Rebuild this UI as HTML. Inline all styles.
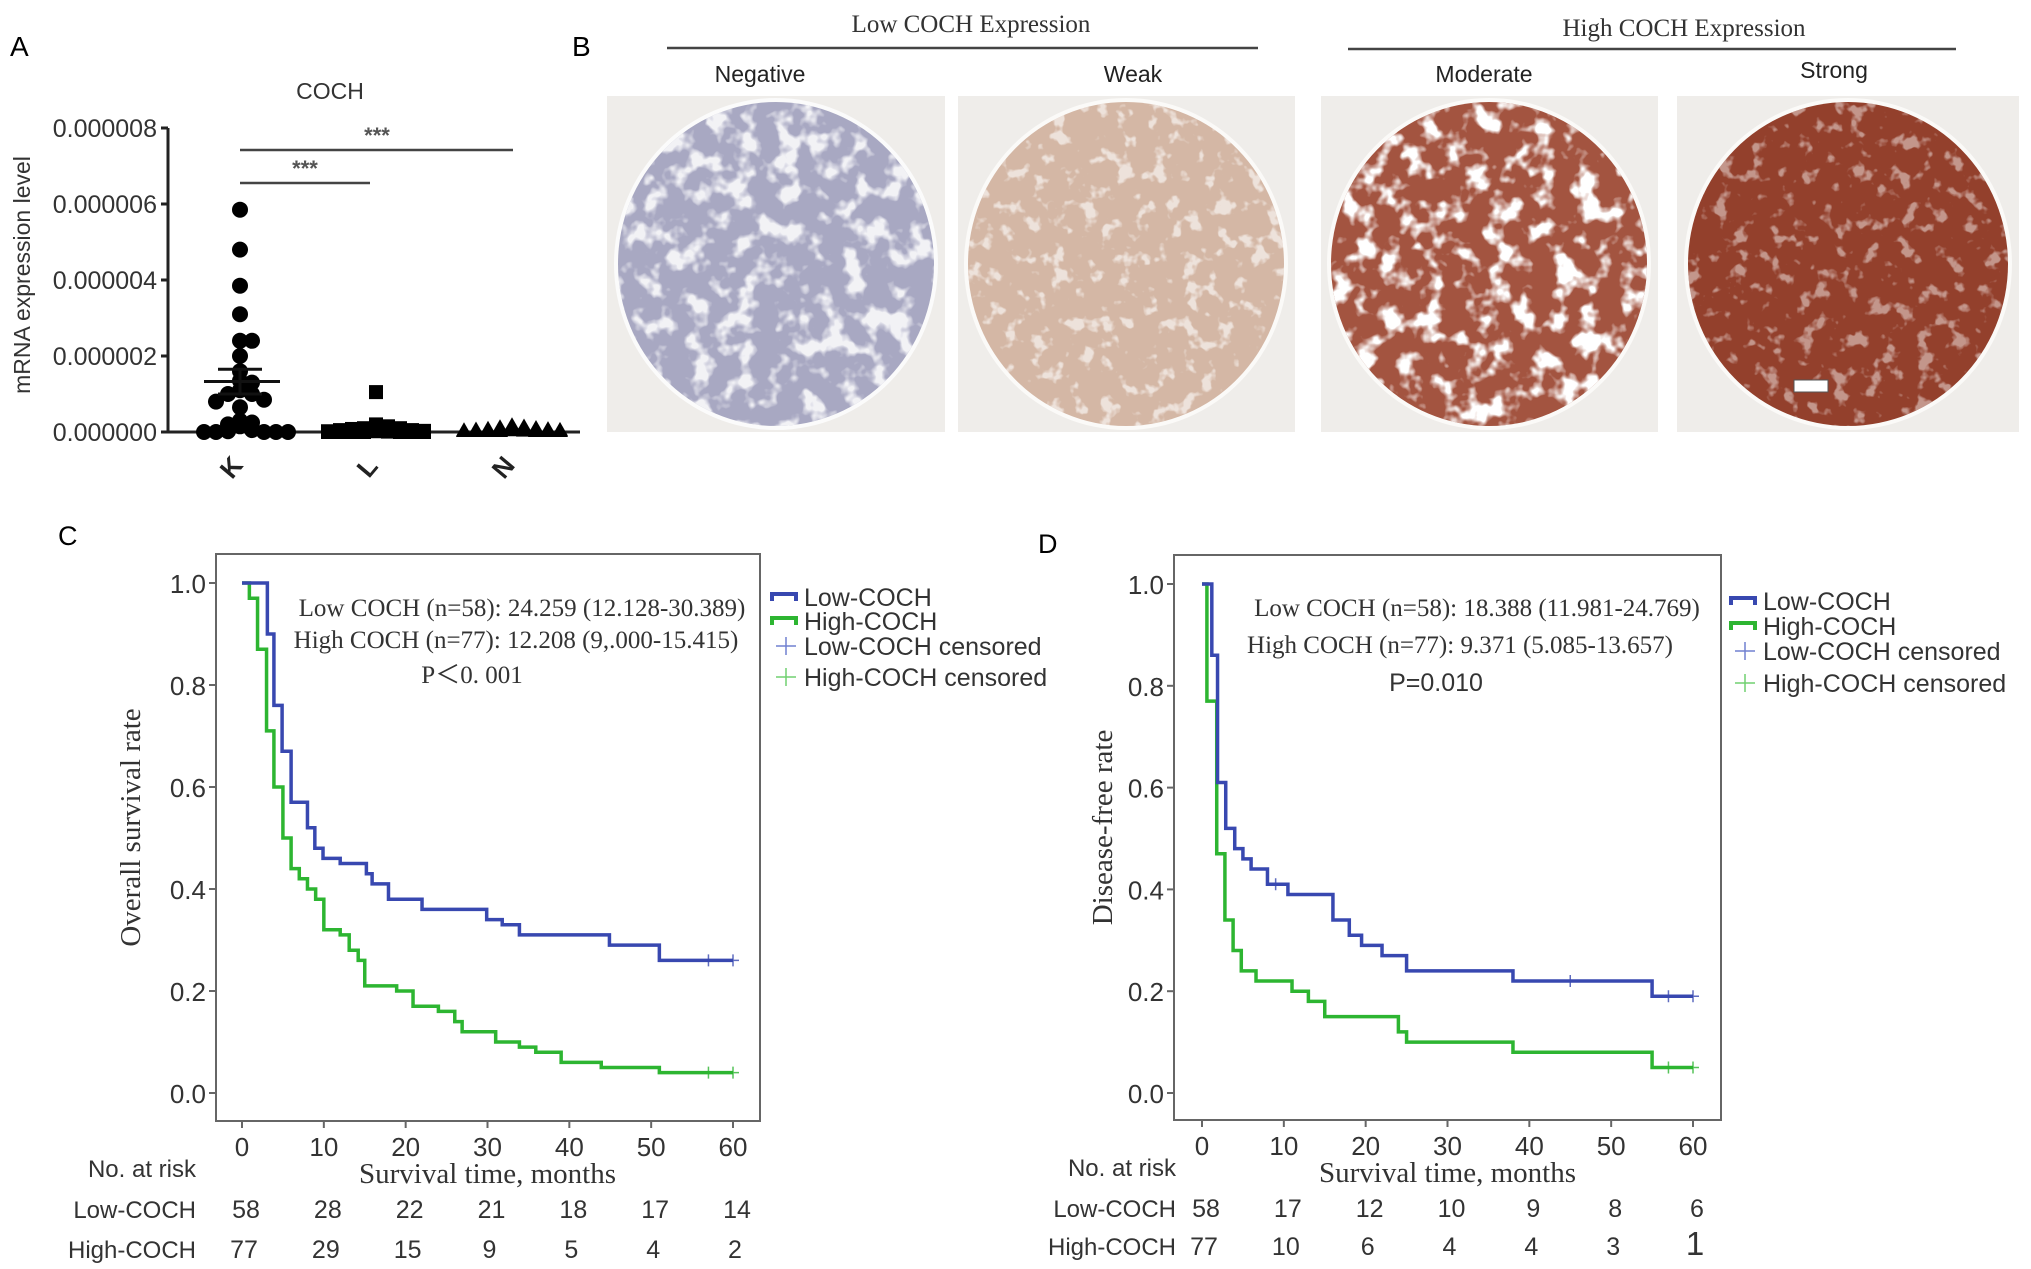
<!DOCTYPE html>
<html><head><meta charset="utf-8"><style>
html,body{margin:0;padding:0;background:#fff;}
svg{display:block;}
.sans{font-family:"Liberation Sans",sans-serif;}
.serif{font-family:"Liberation Serif",serif;}
</style></head><body>
<svg id="fig" width="2031" height="1269" viewBox="0 0 2031 1269" xmlns="http://www.w3.org/2000/svg">
<defs>
<filter id="tex" x="0" y="0" width="100%" height="100%">
<feTurbulence type="fractalNoise" baseFrequency="0.045" numOctaves="3" seed="4" result="n"/>
<feColorMatrix in="n" type="matrix" values="0 0 0 0 1  0 0 0 0 1  0 0 0 0 1  0 0 0 -6 3.0" result="m"/>
<feComposite in="m" in2="SourceGraphic" operator="in"/>
</filter>
<filter id="tex2" x="0" y="0" width="100%" height="100%">
<feTurbulence type="fractalNoise" baseFrequency="0.06" numOctaves="3" seed="9" result="n"/>
<feColorMatrix in="n" type="matrix" values="0 0 0 0 1  0 0 0 0 1  0 0 0 0 1  0 0 0 -8 3.4" result="m"/>
<feComposite in="m" in2="SourceGraphic" operator="in"/>
</filter>
</defs>

<!-- Panel A -->
<text x="10" y="56" class="sans" font-size="28">A</text>
<text x="330" y="99" class="sans" font-size="23" text-anchor="middle" fill="#333">COCH</text>
<text transform="translate(30,275) rotate(-90)" class="sans" font-size="23" text-anchor="middle" fill="#333">mRNA expression level</text>
<g id="panelA"></g>

<!-- Panel B -->
<text x="572" y="56" class="sans" font-size="28">B</text>
<text x="971" y="32" class="serif" font-size="25" text-anchor="middle" fill="#333">Low COCH Expression</text>
<line x1="667" y1="48" x2="1258" y2="48" stroke="#444" stroke-width="2.5"/>
<text x="1684" y="36" class="serif" font-size="25" text-anchor="middle" fill="#333">High COCH Expression</text>
<line x1="1348" y1="49" x2="1956" y2="49" stroke="#444" stroke-width="2.5"/>
<text x="760" y="82" class="sans" font-size="23" text-anchor="middle" fill="#222">Negative</text>
<text x="1133" y="82" class="sans" font-size="23" text-anchor="middle" fill="#222">Weak</text>
<text x="1484" y="82" class="sans" font-size="23" text-anchor="middle" fill="#222">Moderate</text>
<text x="1834" y="78" class="sans" font-size="23" text-anchor="middle" fill="#222">Strong</text>

<g>
<rect x="607" y="96" width="338" height="336" fill="#efedea"/>
<ellipse cx="776" cy="264" rx="162" ry="166" fill="#fbfbfb"/>
<ellipse cx="776" cy="264" rx="158" ry="162" fill="#a8a8c2"/>
<ellipse cx="776" cy="264" rx="158" ry="162" fill="#fff" filter="url(#tex)" opacity="0.85"/>
</g>
<g>
<rect x="958" y="96" width="337" height="336" fill="#efedea"/>
<ellipse cx="1126" cy="264" rx="162" ry="166" fill="#fbfaf8"/>
<ellipse cx="1126" cy="264" rx="158" ry="162" fill="#d4b7a5"/>
<ellipse cx="1126" cy="264" rx="158" ry="162" fill="#fff" filter="url(#tex2)" opacity="0.6"/>
</g>
<g>
<rect x="1321" y="96" width="337" height="336" fill="#efedea"/>
<ellipse cx="1489" cy="264" rx="162" ry="166" fill="#fbfaf8"/>
<ellipse cx="1489" cy="264" rx="158" ry="162" fill="#a35440"/>
<ellipse cx="1489" cy="264" rx="158" ry="162" fill="#fff" filter="url(#tex)"/>
</g>
<g>
<rect x="1677" y="96" width="342" height="336" fill="#efedea"/>
<ellipse cx="1848" cy="264" rx="164" ry="166" fill="#fbfaf8"/>
<ellipse cx="1848" cy="264" rx="160" ry="162" fill="#93402c"/>
<ellipse cx="1848" cy="264" rx="160" ry="162" fill="#fff" filter="url(#tex2)" opacity="0.45"/>
<rect x="1794" y="380" width="34" height="12" fill="#fff" stroke="#555"/>
</g>

<!-- Panel C -->
<text x="58" y="545" class="sans" font-size="27">C</text>
<g id="panelC"></g>
<!-- Panel D -->
<text x="1038" y="553" class="sans" font-size="27">D</text>
<g id="panelD"></g>
</svg>

<script>
const NS = "http://www.w3.org/2000/svg";
function mk(parent, tag, attrs, text) {
  const e = document.createElementNS(NS, tag);
  for (const k in attrs) e.setAttribute(k, attrs[k]);
  if (text !== undefined) e.textContent = text;
  parent.appendChild(e);
  return e;
}

/* ---------- Panel A data ---------- */
const aCategories = ["K", "L", "N"];
const aTicks = [0, 2e-6, 4e-6, 6e-6, 8e-6];
const aTickLabels = ["0.000000", "0.000002", "0.000004", "0.000006", "0.000008"];
const aValuesK = [5.85e-6, 4.8e-6, 3.85e-6, 3.1e-6, 2.4e-6, 2.4e-6, 2.0e-6, 1.6e-6, 1.35e-6, 1.3e-6, 1.1e-6, 1.0e-6, 1.0e-6, 0.85e-6, 0.8e-6, 0.65e-6, 0.3e-6, 0.25e-6, 0.2e-6, 0.15e-6, 0.05e-6, 0.02e-6, 0.0, 0.0, 0.0, 0.0, 0.0];
const aValuesL = [1.05e-6, 0.2e-6, 0.15e-6, 0.15e-6, 0.1e-6, 0.1e-6, 0.08e-6, 0.05e-6, 0.05e-6, 0.03e-6, 0.02e-6, 0.02e-6, 0.01e-6, 0.0, 0.0, 0.0, 0.0, 0.0, 0.0, 0.0];
const aValuesN = [0.15e-6, 0.12e-6, 0.1e-6, 0.08e-6, 0.06e-6, 0.05e-6, 0.04e-6, 0.03e-6, 0.02e-6, 0.02e-6, 0.01e-6, 0.0, 0.0, 0.0, 0.0, 0.0, 0.0, 0.0];
const aMeanK = [1.33e-6, 1.0e-6, 1.65e-6]; // mean, lower SEM, upper SEM

(function panelA() {
  const g = document.getElementById("panelA");
  const y0 = 432, y1 = 128, axX = 168, axEnd = 580;
  const ya = v => y0 - v / 8e-6 * (y0 - y1);
  const catX = i => 240 + i * 136;
  let e;
  e = mk(g, "line", {x1: axX, y1: y1, x2: axX, y2: y0, stroke: "#222", "stroke-width": 3});
  
  
  e = mk(g, "line", {x1: axX, y1: y0, x2: axEnd, y2: y0, stroke: "#222", "stroke-width": 3});
  
  
  aTicks.forEach((t, i) => {
    e = mk(g, "line", {x1: axX - 7, y1: ya(t), x2: axX, y2: ya(t), stroke: "#222", "stroke-width": 3});
    
    
    e = mk(g, "text", {x: axX - 11, y: ya(t) + 9, "text-anchor": "end", "font-size": 25, fill: "#333", class: "sans"}, aTickLabels[i]);
    
    
  });
  aCategories.forEach((c, i) => {
    e = mk(g, "text", {transform: `translate(${catX(i) - 2},${473}) rotate(-50)`, "text-anchor": "middle", "font-size": 26, "font-weight": "bold", fill: "#222", class: "sans"}, c);
    
    
  });
  const series = [aValuesK, aValuesL, aValuesN];
  series.forEach((vals, ci) => {
    const counts = {};
    vals.forEach((v, i) => {
      const py = ya(v);
      const bin = Math.round(py / 12);
      const k = counts[bin] || 0; counts[bin] = k + 1;
      const idx = k % 9;
      const off = (idx === 0 ? 0 : (idx % 2 ? 1 : -1) * Math.ceil(idx / 2) * 12);
      const px = catX(ci) + off;
      let m;
      if (ci === 0) m = mk(g, "circle", {cx: px, cy: py, r: 8, fill: "#000"});
      else if (ci === 1) m = mk(g, "rect", {x: px - 7, y: py - 7, width: 14, height: 14, fill: "#000"});
      else m = mk(g, "polygon", {points: `${px},${py - 9} ${px + 8},${py + 5} ${px - 8},${py + 5}`, fill: "#000"});
      
      
    });
  });
  const mx = catX(0);
  e = mk(g, "line", {x1: mx - 36, y1: ya(aMeanK[0]), x2: mx + 40, y2: ya(aMeanK[0]), stroke: "#111", "stroke-width": 3});
  
  
  [aMeanK[1], aMeanK[2]].forEach(v => {
    e = mk(g, "line", {x1: mx - 22, y1: ya(v), x2: mx + 22, y2: ya(v), stroke: "#111", "stroke-width": 3});
    
    
  });
  e = mk(g, "line", {x1: mx, y1: ya(aMeanK[1]), x2: mx, y2: ya(aMeanK[2]), stroke: "#111", "stroke-width": 3});
  
  
  e = mk(g, "line", {x1: 240, y1: 183, x2: 370, y2: 183, stroke: "#444", "stroke-width": 2.5});
  
  
  e = mk(g, "text", {x: 305, y: 176, "text-anchor": "middle", "font-size": 22, fill: "#555", class: "sans", "font-weight": "bold"}, "***");
  
  
  e = mk(g, "line", {x1: 240, y1: 150, x2: 513, y2: 150, stroke: "#444", "stroke-width": 2.5});
  
  
  e = mk(g, "text", {x: 377, y: 143, "text-anchor": "middle", "font-size": 22, fill: "#555", class: "sans", "font-weight": "bold"}, "***");
  
  
})();

/* ---------- KM data ---------- */
const xTicks = [0, 10, 20, 30, 40, 50, 60];
const yTicks = [0, 0.2, 0.4, 0.6, 0.8, 1.0];
const yTickLabels = ["0.0", "0.2", "0.4", "0.6", "0.8", "1.0"];

const cLowTimes = [0, 3.1, 3.9, 4.9, 6, 8, 8.9, 9.9, 12, 15.2, 15.9, 17.9, 22, 29.9, 31.8, 33.9, 44.9, 51];
const cLowSurv  = [1.0, 0.90, 0.76, 0.67, 0.57, 0.52, 0.48, 0.46, 0.45, 0.43, 0.41, 0.38, 0.36, 0.34, 0.33, 0.31, 0.29, 0.26];
const cLowCensor = [57, 60];
const cHighTimes = [0, 0.9, 1.9, 3, 3.9, 5, 6, 7, 8, 9, 10, 12, 13.1, 14.2, 15, 18.9, 20.9, 24, 26, 26.9, 31, 33.9, 35.9, 39, 43.9, 51];
const cHighSurv  = [1.0, 0.97, 0.87, 0.71, 0.60, 0.50, 0.44, 0.42, 0.40, 0.38, 0.32, 0.31, 0.28, 0.26, 0.21, 0.20, 0.17, 0.16, 0.14, 0.12, 0.10, 0.09, 0.08, 0.06, 0.05, 0.04];
const cHighCensor = [57, 60];
const cRiskLow = [58, 28, 22, 21, 18, 17, 14];
const cRiskHigh = [77, 29, 15, 9, 5, 4, 2];

const dLowTimes = [0, 1.2, 1.9, 2.9, 4, 5, 6, 8, 10.5, 16, 18, 19.5, 22, 25, 38, 55];
const dLowSurv  = [1.0, 0.86, 0.61, 0.52, 0.48, 0.46, 0.44, 0.41, 0.39, 0.34, 0.31, 0.29, 0.27, 0.24, 0.22, 0.19];
const dLowCensor = [9, 45, 57, 60];
const dHighTimes = [0, 0.6, 1.8, 2.8, 3.8, 4.8, 6.6, 11, 13, 15, 24, 25, 38, 55];
const dHighSurv  = [1.0, 0.77, 0.47, 0.34, 0.28, 0.24, 0.22, 0.20, 0.18, 0.15, 0.12, 0.10, 0.08, 0.05];
const dHighCensor = [57, 60];
const dRiskLow = [58, 17, 12, 10, 9, 8, 6];
const dRiskHigh = [77, 10, 6, 4, 4, 3, 1];

const BLUE = "#3848b0", GREEN = "#2db531";

function stepVal(times, surv, t) {
  let s = surv[0];
  for (let i = 0; i < times.length; i++) if (times[i] <= t) s = surv[i];
  return s;
}

function kmPanel(id, L, P) {
  const g = document.getElementById(id);
  const sx = t => L.x0 + t / 60 * (L.x60 - L.x0);
  const sy = v => L.y0 - v * (L.y0 - L.y1);
  let e;
  e = mk(g, "rect", {x: L.left, y: L.top, width: L.right - L.left, height: L.bottom - L.top, fill: "none", stroke: "#666", "stroke-width": 2});
  
  
  yTicks.forEach((t, i) => {
    e = mk(g, "line", {x1: L.left - 7, y1: sy(t), x2: L.left, y2: sy(t), stroke: "#666", "stroke-width": 2});
    
    
    e = mk(g, "text", {x: L.left - 10, y: sy(t) + 10, "text-anchor": "end", "font-size": 26, fill: "#333", class: "sans"}, yTickLabels[i]);
    
    
  });
  xTicks.forEach((t, i) => {
    e = mk(g, "line", {x1: sx(t), y1: L.bottom, x2: sx(t), y2: L.bottom + 7, stroke: "#666", "stroke-width": 2});
    
    
    e = mk(g, "text", {x: sx(t), y: L.bottom + 35, "text-anchor": "middle", "font-size": 26, fill: "#333", class: "sans"}, String(t));
    
    
    e = mk(g, "text", {x: sx(t) + 4, y: L.rowLow, "text-anchor": "middle", "font-size": 25, fill: "#333", class: "sans"}, String(P.riskLow[i]));
    
    
    e = mk(g, "text", {x: sx(t) + 2, y: L.rowHigh, "text-anchor": "middle", "font-size": (i === 6 && P.bigLast) ? 33 : 25, fill: "#333", class: "sans"}, String(P.riskHigh[i]));
    
    
  });
  e = mk(g, "text", {transform: `translate(${L.ylabX},${(L.top + L.bottom) / 2 - 10}) rotate(-90)`, "text-anchor": "middle", "font-size": 29, fill: "#333", class: "serif"}, P.ylabel);
  
  
  e = mk(g, "text", {x: (L.x0 + L.x60) / 2, y: L.bottom + 62, "text-anchor": "middle", "font-size": 29, fill: "#333", class: "serif"}, "Survival time, months");
  
  
  e = mk(g, "text", {x: L.labR, y: L.bottom + 56, "text-anchor": "end", "font-size": 24, fill: "#333", class: "sans"}, "No. at risk");
  
  
  e = mk(g, "text", {x: L.labR, y: L.rowLow, "text-anchor": "end", "font-size": 24, fill: "#333", class: "sans"}, "Low-COCH");
  
  
  e = mk(g, "text", {x: L.labR, y: L.rowHigh, "text-anchor": "end", "font-size": 24, fill: "#333", class: "sans"}, "High-COCH");
  
  

  function curve(times, surv, censor, color, name) {
    let d = `M${sx(times[0])},${sy(surv[0])}`;
    for (let i = 1; i < times.length; i++) {
      d += ` H${sx(times[i])} V${sy(surv[i])}`;
    }
    d += ` H${sx(60)}`;
    const p = mk(g, "path", {d: d, fill: "none", stroke: color, "stroke-width": 3.5});
    
    
    censor.forEach(t => {
      const cx = sx(t), cy = sy(stepVal(times, surv, t));
      const c = mk(g, "path", {d: `M${cx - 6},${cy} H${cx + 6} M${cx},${cy - 6} V${cy + 6}`, stroke: color, "stroke-width": 1.5, opacity: 0.8});
      
      
    });
  }
  curve(P.highT, P.highS, P.highC, GREEN, 'high-coch');
  curve(P.lowT, P.lowS, P.lowC, BLUE, 'low-coch');

  P.notes.forEach(n => {
    e = mk(g, "text", {x: n[0], y: n[1], "text-anchor": "middle", "font-size": n[3], fill: "#333", class: n[4]}, n[2]);
    
    
  });
  const lg = mk(g, "g", {});
  
  
  const items = [["Low-COCH", BLUE, "step"], ["High-COCH", GREEN, "step"], ["Low-COCH censored", "#7080d0", "plus"], ["High-COCH censored", "#70d070", "plus"]];
  items.forEach((it, i) => {
    const y = L.legY[i];
    let s;
    if (it[2] === "step") s = mk(lg, "path", {d: `M${L.legX},${y + 4} V${y - 3} H${L.legX + 24} V${y + 4}`, fill: "none", stroke: it[1], "stroke-width": 4});
    else s = mk(lg, "path", {d: `M${L.legX + 4},${y} H${L.legX + 24} M${L.legX + 14},${y - 9} V${y + 9}`, stroke: it[1], "stroke-width": 1.5});
    
    
    const t = mk(lg, "text", {x: L.legX + 32, y: y + 9, "font-size": 25, fill: "#333", class: "sans"}, it[0]);
    
    
  });
}

kmPanel("panelC",
  {left: 216, right: 760, top: 554, bottom: 1121, x0: 242, x60: 733, y0: 1093, y1: 583, ylabX: 140, labR: 196, rowLow: 1218, rowHigh: 1258, legX: 772, legY: [597, 621, 646, 677]},
  {lowT: cLowTimes, lowS: cLowSurv, lowC: cLowCensor, highT: cHighTimes, highS: cHighSurv, highC: cHighCensor,
   riskLow: cRiskLow, riskHigh: cRiskHigh, ylabel: "Overall survival rate", bigLast: false,
   notes: [[522, 616, "Low COCH (n=58): 24.259 (12.128-30.389)", 25, "serif"], [516, 648, "High COCH (n=77): 12.208 (9,.000-15.415)", 25, "serif"], [472, 683, "P\uFF1C0. 001", 25, "serif"]]});

kmPanel("panelD",
  {left: 1174, right: 1721, top: 555, bottom: 1120, x0: 1202, x60: 1693, y0: 1093, y1: 584, ylabX: 1112, labR: 1176, rowLow: 1217, rowHigh: 1255, legX: 1731, legY: [601, 626, 651, 683]},
  {lowT: dLowTimes, lowS: dLowSurv, lowC: dLowCensor, highT: dHighTimes, highS: dHighSurv, highC: dHighCensor,
   riskLow: dRiskLow, riskHigh: dRiskHigh, ylabel: "Disease-free rate", bigLast: true,
   notes: [[1477, 616, "Low COCH (n=58): 18.388 (11.981-24.769)", 25, "serif"], [1460, 653, "High COCH (n=77): 9.371 (5.085-13.657)", 25, "serif"], [1436, 691, "P=0.010", 25, "sans"]]});
</script>
</body></html>
